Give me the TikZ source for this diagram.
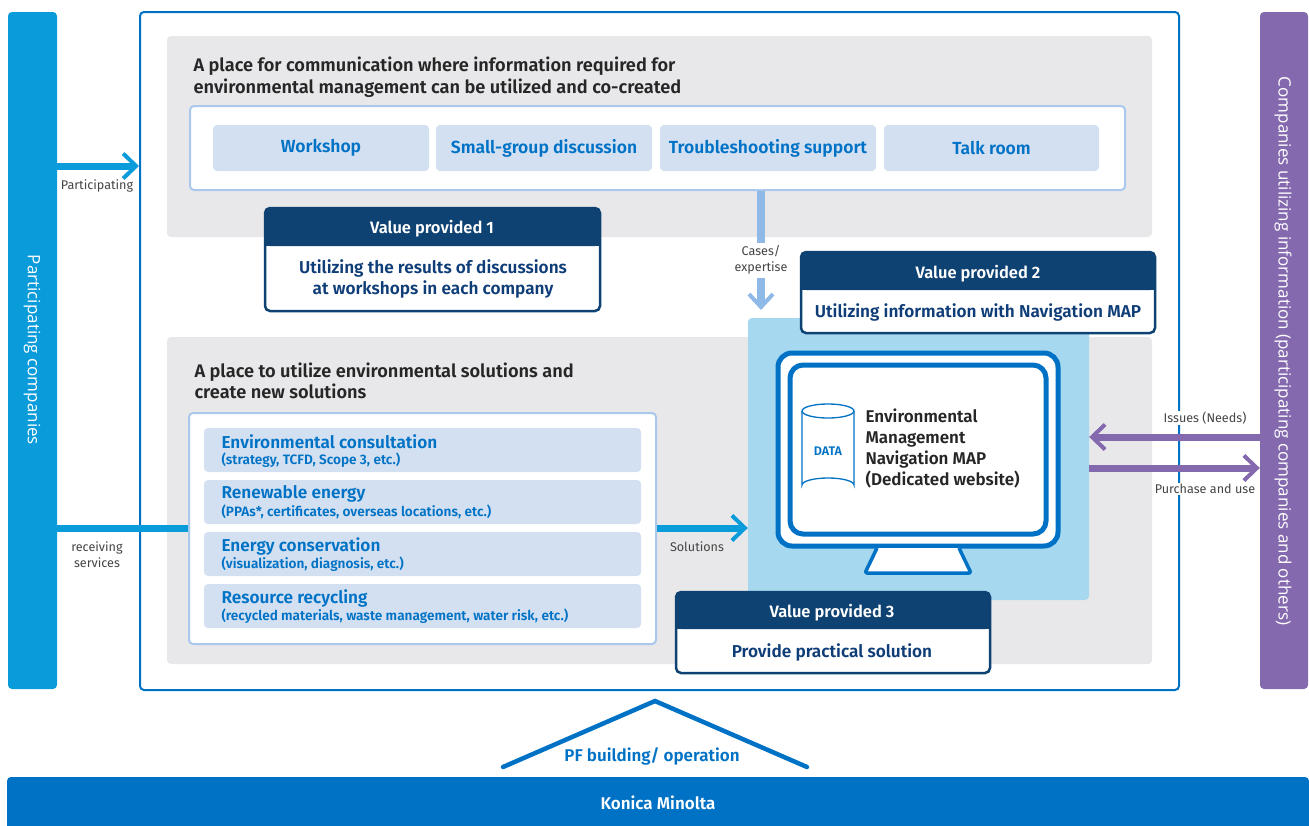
\documentclass[tikz,border=0pt]{standalone}
\usepackage{fontspec}
\setmainfont{Fira Sans}[BoldFont=* SemiBold]
\newfontfamily\wide{Open Sans}
\usetikzlibrary{arrows.meta,shapes.geometric}
\definecolor{cyanb}{HTML}{0A9BDB}
\definecolor{purp}{HTML}{8469AE}
\definecolor{kmblue}{HTML}{0072C5}
\definecolor{greyp}{HTML}{E8E8EA}
\definecolor{pale}{HTML}{A9C8EC}
\definecolor{pill}{HTML}{D2E0F2}
\definecolor{navy}{HTML}{0E4272}
\definecolor{navyt}{HTML}{0F3D78}
\definecolor{sky}{HTML}{A6D9F0}
\definecolor{midb}{HTML}{8FB9E6}
\definecolor{lab}{HTML}{444444}
\newcommand\fs[2][0]{\fontsize{#2}{\ifdim#1pt=0pt #2\else #1\fi}\selectfont}
% \bx[style]{name}{x1}{y1}{x2}{y2}
\newcommand\bx[6][]{%
  \pgfmathsetmacro\bw{#5-#3}\pgfmathsetmacro\bh{#6-#4}%
  \pgfmathsetmacro\bcx{(#3+#5)/2}\pgfmathsetmacro\bcy{(#4+#6)/2}%
  \node[minimum width=\bw pt,minimum height=\bh pt,inner sep=0pt,#1] (#2) at (\bcx,\bcy) {};}
\tikzset{
  x=1pt,y=-1pt,
  panel/.style={rectangle,rounded corners=4pt,fill=greyp},
  whitebox/.style={rectangle,rounded corners=4pt,fill=white,draw=pale,line width=2pt},
  pillbox/.style={rectangle,rounded corners=4pt,fill=pill},
  pilltext/.style={text=kmblue,font=\bfseries\fontsize{17.5}{20}\selectfont},
  heading/.style={anchor=west,align=left,text=black!85,font=\bfseries\fontsize{18.2}{21.5}\selectfont},
  rowtitle/.style={anchor=west,text=kmblue,font=\bfseries\fontsize{17.2}{20}\selectfont},
  rowsub/.style={anchor=west,text=kmblue,font=\bfseries\fontsize{13.6}{16}\selectfont},
  valbody/.style={rectangle,rounded corners=5pt,fill=white,draw=navy,line width=2.5pt},
  valtop/.style={text=white,font=\bfseries\fontsize{16.5}{20}\selectfont},
  valtext/.style={align=center,text=navyt,font=\bfseries\fontsize{17.2}{21}\selectfont},
  small/.style={text=lab,align=center,font=\fontsize{12.6}{16}\selectfont,inner sep=1pt},
  bar/.style={rectangle,rounded corners=4pt},
  bartext/.style={text=white,font=\wide\fontsize{17}{20}\selectfont,rotate=-90},
  flow/.style={line width=7pt},
  barb/.style={-{Straight Barb[length=13pt,width=25pt,line width=4pt]}},
}
\begin{document}
\begin{tikzpicture}
\useasboundingbox (0,0) rectangle (1309,825);
\fill[white] (0,0) rectangle (1309,825);
% side bars and frame
\bx[bar,fill=cyanb]{leftbar}{8}{12}{57}{689}
\bx[bar,fill=purp]{rightbar}{1260}{12}{1308}{689}
\bx[rectangle,rounded corners=4pt,draw=kmblue,line width=2pt,fill=white]{frame}{140}{12}{1179}{690}
\node[bartext] (lefttext) at (32,350) {Participating companies};
\node[bartext] (righttext) at (1283,351) {Companies utilizing information (participating companies and others)};
% grey panels
\bx[panel]{top}{167}{36}{1152}{237}
\bx[panel]{bottom}{167}{337}{1152}{664}
\node[heading] (h1) at (190,77) {A place for communication where information required for\\environmental management can be utilized and co-created};
\node[heading] (h2) at (191,381) {A place to utilize environmental solutions and\\create new solutions};
% upper white box
\bx[whitebox]{upbox}{190}{106}{1125}{190}
\bx[pillbox]{p1}{213}{125}{429}{171}
\bx[pillbox]{p2}{436}{125}{652}{171}
\bx[pillbox]{p3}{660}{125}{876}{171}
\bx[pillbox]{p4}{884}{125}{1099}{171}
\node[pilltext] (t1) at (p1) {Workshop};
\node[pilltext] (t2) at (p2) {Small-group discussion};
\node[pilltext] (t3) at (p3) {Troubleshooting support};
\node[pilltext] (t4) at (p4) {Talk room};
% light-blue panel
\bx[rectangle,rounded corners=4pt,fill=sky]{sky}{748}{318}{1089}{600}
% cases arrow
\coordinate (casesX) at (761,0);
\coordinate (casesTip) at (761,310);
\draw[line width=8pt,midb,-{Straight Barb[length=13pt,width=24pt,line width=4pt]}] (upbox.south -| casesX) -- (casesTip);
\node[small,fill=white,minimum width=64pt,minimum height=35pt] (cases) at (761,260) {Cases/\\expertise};
% solutions box
\bx[whitebox]{solbox}{189}{413}{656}{644}
\bx[pillbox]{r1}{204}{428}{641}{472}
\bx[pillbox]{r2}{204}{480}{641}{524}
\bx[pillbox]{r3}{204}{532}{641}{576}
\bx[pillbox]{r4}{204}{584}{641}{628}
\node[rowtitle] (r1a) at (218,442) {Environmental consultation};
\node[rowsub] (r1b) at (218,460) {(strategy, TCFD, Scope 3, etc.)};
\node[rowtitle] (r2a) at (218,494) {Renewable energy};
\node[rowsub] (r2b) at (218,512) {(PPAs*, certificates, overseas locations, etc.)};
\node[rowtitle] (r3a) at (218,546) {Energy conservation};
\node[rowsub] (r3b) at (218,564) {(visualization, diagnosis, etc.)};
\node[rowtitle] (r4a) at (218,598) {Resource recycling};
\node[rowsub] (r4b) at (218,616) {(recycled materials, waste management, water risk, etc.)};
% left flows
\coordinate (partY) at (0,166);
\coordinate (servY) at (0,528);
\draw[flow,cyanb,barb] (leftbar.east |- partY) -- (frame.west |- partY);
\draw[flow,cyanb] (leftbar.east |- servY) -- (solbox.west |- servY);
\draw[flow,cyanb,barb] (solbox.east |- servY) -- (sky.west |- servY);
\node[small] (lpart) at (97,186) {Participating};
\node[small] (lserv) at (97,555) {receiving\\services};
\node[small] (lsol) at (697,547) {Solutions};
% monitor
\bx[rectangle,rounded corners=14pt,fill=white,draw=kmblue,line width=5pt]{outer}{778}{353}{1058}{546}
\bx[rectangle,rounded corners=13pt,fill=white,draw=kmblue,line width=5pt]{inner}{790}{365}{1046}{534}
\draw[kmblue,line width=3.5pt,fill=white,line join=round,rounded corners=2pt] (877,548) -- (865,573) -- (971,573) -- (959,548);
% data cylinder
\draw[kmblue,line width=1.3pt,fill=white] (802,411) -- (802,485) arc[start angle=180,end angle=360,x radius=26pt,y radius=-7pt] -- (854,411);
\draw[kmblue,line width=1.3pt,fill=white] (828,411) ellipse[x radius=26pt,y radius=7pt];
\node[text=kmblue,font=\bfseries\fontsize{12.5}{15}\selectfont] (data) at (828,451) {DATA};
\node[anchor=west,align=left,text=black!85,font=\bfseries\fontsize{17}{21}\selectfont] (map) at (862,448) {Environmental\\Management\\Navigation MAP\\(Dedicated website)};
% value boxes
\bx[valbody]{v1}{265}{208}{600}{311}
\fill[navy,rounded corners=5pt] (265,246) -- (265,208) -- (600,208) -- (600,246) -- cycle;
\fill[navy] (265,236) rectangle (600,246);
\node[valtop] (v1t) at (432,229) {Value provided 1};
\node[valtext] (v1b) at (433,279) {Utilizing the results of discussions\\at workshops in each company};
\bx[valbody]{v2}{801}{252}{1155}{333}
\fill[navy,rounded corners=5pt] (801,290) -- (801,252) -- (1155,252) -- (1155,290) -- cycle;
\fill[navy] (801,280) rectangle (1155,290);
\node[valtop] (v2t) at (978,274) {Value provided 2};
\node[valtext] (v2b) at (978,312) {Utilizing information with Navigation MAP};
\bx[valbody]{v3}{676}{592}{990}{673}
\fill[navy,rounded corners=5pt] (676,629) -- (676,592) -- (990,592) -- (990,629) -- cycle;
\fill[navy] (676,619) rectangle (990,629);
\node[valtop] (v3t) at (832,613) {Value provided 3};
\node[valtext] (v3b) at (832,652) {Provide practical solution};
% purple flows
\coordinate (issY) at (0,437);
\coordinate (purY) at (0,468);
\node[small,fill=white] (liss) at (1205,418) {Issues (Needs)};
\node[small,fill=white] (lpur) at (1205,489) {Purchase and use};
\draw[flow,purp,barb] (rightbar.west |- issY) -- (sky.east |- issY);
\draw[flow,purp,barb] (sky.east |- purY) -- (rightbar.west |- purY);
% bottom
\bx[rectangle,rounded corners=4pt,fill=kmblue]{base}{7}{777}{1309}{840}
\node[text=white,font=\bfseries\fontsize{17}{20}\selectfont] (km) at (658,803) {Konica Minolta};
\coordinate (apex) at (655,701);
\coordinate (rl) at (503,767);
\coordinate (rr) at (807,767);
\draw[kmblue,line width=4.5pt,line cap=round,line join=miter] (rl) -- (apex) -- (rr);
\node[text=kmblue,font=\bfseries\fontsize{17}{20}\selectfont] (pf) at (652,756) {PF building/ operation};
\end{tikzpicture}
\end{document}
